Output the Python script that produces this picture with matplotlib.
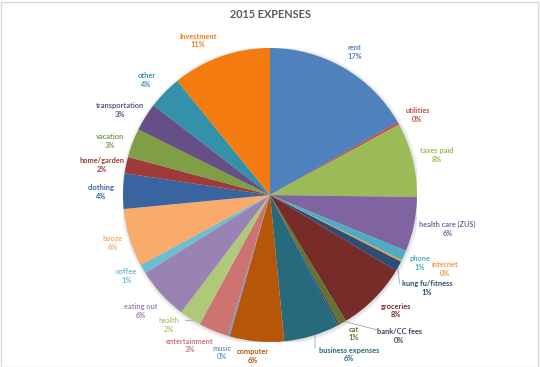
import numpy as np
import matplotlib
matplotlib.use("Agg")
import matplotlib.pyplot as plt
from matplotlib.patches import Rectangle, Circle

categories = ["rent", "utilities", "taxes paid", "health care (ZUS)", "phone", "internet",
              "kung fu/fitness", "groceries", "cat", "bank/CC fees", "business expenses",
              "computer", "music", "entertainment", "health", "eating out", "coffee",
              "booze", "clothing", "home/garden", "vacation", "transportation", "other",
              "Investment"]
values = [16.8, 0.3, 8.2, 6.0, 1.1, 0.2, 1.1, 7.8, 0.8, 0.2, 6.1, 6.0, 0.2, 3.3, 2.4,
          5.8, 1.0, 6.4, 3.9, 1.8, 3.2, 3.1, 3.7, 10.9]
title = "2015 EXPENSES"

colors = ["#4F81BD", "#C0504D", "#9BBB59", "#8064A2", "#4BACC6", "#F79646",
          "#2C4D75", "#772C2A", "#5F7530", "#4D3B62", "#276A7C", "#B65708",
          "#729ACA", "#CD7371", "#AFC97A", "#9983B5", "#6FBDD1", "#F9AB6B",
          "#3A64A0", "#9E3A38", "#7F9E45", "#654F85", "#3391A9", "#F47B0F"]

# label placement: (angle clockwise from 12 o'clock in degrees, distance in radii)
label_pos = {
    "rent": (30.7, 1.13), "utilities": (61.6, 1.14), "taxes paid": (76.5, 1.17),
    "health care (ZUS)": (100.8, 1.23), "phone": (114.4, 1.12), "internet": (113.0, 1.29),
    "kung fu/fitness": (120.6, 1.24), "groceries": (132.6, 1.16), "cat": (148.9, 1.10),
    "bank/CC fees": (137.5, 1.30), "business expenses": (153.7, 1.21),
    "computer": (186.0, 1.10), "music": (197.0, 1.12), "entertainment": (208.0, 1.16),
    "health": (218.0, 1.12), "eating out": (228.0, 1.18), "coffee": (240.5, 1.12),
    "booze": (253.0, 1.12), "clothing": (271.0, 1.15), "home/garden": (280.0, 1.16),
    "vacation": (288.6, 1.15), "transportation": (299.5, 1.17), "other": (313.0, 1.15),
    "Investment": (335.0, 1.16),
}
# leader lines: (start angle, start dist, end angle, end dist)
leaders = {"kung fu/fitness": (118.9, 0.99, 124.4, 1.07),
           "bank/CC fees": (149.4, 1.0, 141.6, 1.17),
           "business expenses": (162.0, 0.99, 163.6, 1.085),
           "health": (211.5, 1.0, 213.9, 1.03)}

W, H = 540, 367
fig = plt.figure(figsize=(W / 100, H / 100), dpi=100)
fig.patches.append(Rectangle((0.5 / W, 0.5 / H), 1 - 2.5 / W, 1 - 2.5 / H,
                             transform=fig.transFigure, fill=False,
                             edgecolor="#D9D9D9", linewidth=1))

R = 147
cx, cy = 270, 195
ax = fig.add_axes([(cx - R) / W, (H - cy - R) / H, 2 * R / W, 2 * R / H])
ax.set_xlim(-1, 1)
ax.set_ylim(-1, 1)
ax.axis("off")

# soft shadow
for i, a in enumerate([0.05, 0.04, 0.03]):
    ax.add_patch(Circle((0.004, -0.006), 1.0 + 0.008 * (i + 1), color="black",
                        alpha=a, lw=0, zorder=0))

wedges, _ = ax.pie(values, colors=colors, startangle=90, counterclock=False,
                   radius=1.0, wedgeprops=dict(linewidth=0))
ax.set_xlim(-1, 1)
ax.set_ylim(-1, 1)


def polar(ang, dist):
    t = np.deg2rad(ang)
    return dist * np.sin(t), dist * np.cos(t)


total = sum(values)
font = ["Lato", "DejaVu Sans"]
for w, name, v, c in zip(wedges, categories, values, colors):
    x, y = polar(*label_pos[name])
    pct = int(round(100 * v / total))
    ax.text(x, y, f"{name}\n{pct}%", ha="center", va="center", color=c,
            fontsize=5.3, fontweight="bold", family=font, linespacing=1.3,
            clip_on=False)
    if name in leaders:
        sa, sd, ea, ed = leaders[name]
        sx, sy = polar(sa, sd)
        ex, ey = polar(ea, ed)
        ax.plot([sx, ex], [sy, ey], color="#A6A6A6", lw=0.6, clip_on=False, zorder=0.5)

fig.text(0.5, 1 - 14 / H, title, ha="center", va="center", fontsize=7.8,
         fontweight="bold", color="#595959", family=font)

fig.savefig("out.png", dpi=100)
